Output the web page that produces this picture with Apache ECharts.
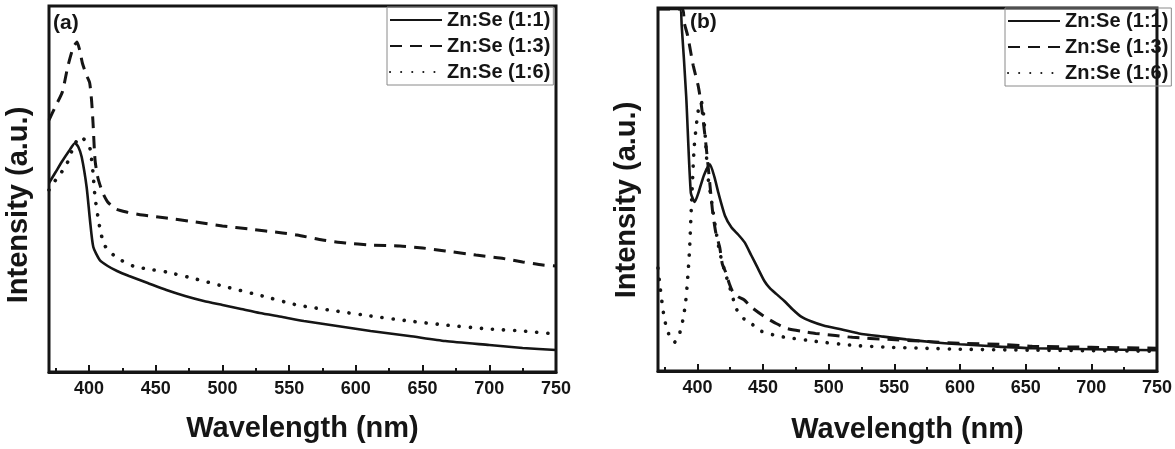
<!DOCTYPE html>
<html>
<head>
<meta charset="utf-8">
<script src="https://cdn.jsdelivr.net/npm/echarts@6/dist/echarts.min.js"></script>
<style>
  html, body { margin: 0; background: #fff; }
  #chart { width: 1175px; height: 449px; }
</style>
</head>
<body>
<div id="chart"></div>
<script>
const seriesNames = ['Zn:Se (1:1)', 'Zn:Se (1:3)', 'Zn:Se (1:6)']
const majorTicks = [400, 450, 500, 550, 600, 650, 700, 750]
const minorTicks = [375, 425, 475, 525, 575, 625, 675, 725]

// panel (a), [wavelength, intensity a.u.]
const aSolid = [[370, 189], [375, 200], [380, 211], [385, 221], [389.5, 229], [392, 225], [394.5, 215], [398.2, 185], [400.7, 152], [403.2, 125], [408, 112], [414, 106], [421, 101], [430, 96], [444, 89], [458, 82], [472, 76], [486, 71], [500, 67], [514, 63], [528, 59], [545, 55], [561, 51], [586, 46], [611, 41], [640, 36], [667, 31], [700, 27], [725, 24], [750, 22]]
const aDashed = [[370, 252], [375, 266], [380, 280], [384, 305], [388, 324], [391, 330], [393, 322], [395, 309], [398, 297], [400.5, 289], [402, 270], [403, 249], [404.5, 212], [406.5, 195], [410, 180], [414, 170], [420, 163], [428, 160], [440, 157], [458, 154], [480, 150], [500, 146], [520, 143], [545, 139], [556, 137], [575, 132], [592, 129], [611, 127], [633, 126], [650, 124], [667, 121], [690, 117], [708, 114], [725, 110], [740, 107], [750, 106]]
const aDotted = [[370, 182], [375, 192], [380, 201], [384, 210], [388, 224], [393, 235], [396, 233], [399, 229], [401, 222], [403, 199], [404.5, 175], [406.7, 155], [409, 138], [412, 126], [416, 120], [421, 114], [433, 106], [444, 103], [458, 100], [480, 93], [500, 86], [530, 76], [556, 67], [585, 61], [611, 56], [640, 51], [667, 47], [700, 43], [725, 41], [750, 38]]

// panel (b)
const bSolid = [[370, 366], [386.5, 366], [388, 350], [391.5, 277], [395, 180], [398, 171], [401, 181], [405, 198], [409.5, 209], [413, 196], [416, 180], [421, 157], [426, 145], [431, 138], [436, 130], [441, 117], [446, 104], [451, 91], [455, 84], [460, 78], [466, 71], [472, 63], [479, 55], [487, 50], [496, 46], [510, 42], [523, 38], [540, 35], [559, 32], [580, 29], [600, 27], [625, 25], [655, 23], [700, 22], [750, 21]]
const bDashed = [[370, 366], [388.5, 366], [390, 352], [392.6, 339], [396.8, 309], [400.5, 289], [403, 269], [406.5, 229], [409.5, 189], [411.7, 160], [414, 140], [417, 125], [419, 108], [421.5, 100], [424.4, 88], [427, 80], [431, 75], [435.5, 72], [441.6, 64], [451, 55], [460, 48], [468, 43], [480, 40], [490, 38], [505, 36], [518, 34], [545, 32], [572, 30], [600, 28], [630, 27], [655, 25], [700, 24], [750, 23]]
const bDotted = [[370, 104], [371, 92], [373, 70], [375, 52], [378, 38], [382.5, 29], [386, 36], [389, 52], [391, 69], [392.5, 92], [394, 122], [395.5, 169], [397.5, 225], [399.5, 252], [401.5, 270], [403, 272], [404.5, 262], [406, 237], [408, 197], [411, 170], [414, 143], [417, 120], [421, 100], [425, 83], [430, 62], [436, 52], [441, 48], [449, 40], [463, 35], [490, 30], [518, 26], [545, 24], [572, 23], [600, 22], [655, 21], [750, 20]]

const font = '"Liberation Sans", Arial, sans-serif'
const ink = '#151515'

const lineStyles = [
  { color: ink, width: 2.6, type: 'solid' },
  { color: ink, width: 3, type: [12, 8] },
  { color: ink, width: 3.6, type: [0.1, 11], cap: 'round' }
]

function makeXAxes(gridIndex, nameGap) {
  return [
    {
      gridIndex,
      type: 'value',
      position: 'bottom',
      min: 370,
      max: 750,
      name: 'Wavelength (nm)',
      nameLocation: 'middle',
      nameGap,
      nameTextStyle: { fontFamily: font, fontWeight: 'bold', fontSize: 29, color: ink },
      axisLine: { show: true, onZero: false, lineStyle: { color: ink, width: 3 } },
      axisTick: { show: true, inside: true, length: 7, customValues: majorTicks, lineStyle: { color: ink, width: 2 } },
      axisLabel: { customValues: majorTicks, margin: 8, fontFamily: font, fontWeight: 'bold', fontSize: 18, color: ink },
      splitLine: { show: false }
    },
    {
      gridIndex,
      type: 'value',
      position: 'bottom',
      min: 370,
      max: 750,
      axisLine: { show: false },
      axisTick: { show: true, inside: true, length: 4, customValues: minorTicks, lineStyle: { color: ink, width: 2 } },
      axisLabel: { show: false },
      splitLine: { show: false }
    }
  ]
}

function makeYAxis(gridIndex, max) {
  return {
    gridIndex,
    type: 'value',
    min: 0,
    max,
    axisLine: { show: false },
    axisTick: { show: false },
    axisLabel: { show: false },
    splitLine: { show: false }
  }
}

function makeLegend(left, top) {
  return {
    left,
    top,
    orient: 'vertical',
    align: 'left',
    selectedMode: false,
    itemWidth: 52,
    itemHeight: 12,
    itemGap: 6,
    padding: [3, 3, 3, 2],
    borderColor: '#8a8a8a',
    borderWidth: 1,
    itemStyle: { opacity: 0 },
    textStyle: { fontFamily: font, fontWeight: 'bold', fontSize: 20, color: ink },
    data: seriesNames
  }
}

function makeSeries(data, idx, axisIdx) {
  return {
    name: seriesNames[idx],
    type: 'line',
    xAxisIndex: axisIdx,
    yAxisIndex: axisIdx === 0 ? 0 : 1,
    data,
    symbol: 'none',
    smooth: 0.2,
    lineStyle: lineStyles[idx],
    itemStyle: { color: ink },
    animation: false
  }
}

const chart = echarts.init(document.getElementById('chart'))
chart.setOption({
  animation: false,
  backgroundColor: '#fff',
  grid: [
    { left: 49, top: 6, width: 507, height: 366, show: true, borderColor: ink, borderWidth: 3 },
    { left: 658, top: 8, width: 509, height: 367, show: true, borderColor: ink, borderWidth: 3 }
  ],
  xAxis: [...makeXAxes(0, 42), ...makeXAxes(1, 44)],
  yAxis: [makeYAxis(0, 366), makeYAxis(1, 367)],
  legend: [makeLegend(387, 7), makeLegend(1005, 8)],
  graphic: [
    { type: 'text', left: 53, top: 13, style: { text: '(a)', font: 'bold 21px ' + font, fill: ink } },
    { type: 'text', left: 690, top: 12, style: { text: '(b)', font: 'bold 21px ' + font, fill: ink } },
    { type: 'text', x: 19, y: 205, rotation: Math.PI / 2, style: { text: 'Intensity (a.u.)', font: 'bold 29px ' + font, fill: ink, align: 'center', verticalAlign: 'middle' } },
    { type: 'text', x: 627, y: 200, rotation: Math.PI / 2, style: { text: 'Intensity (a.u.)', font: 'bold 29px ' + font, fill: ink, align: 'center', verticalAlign: 'middle' } }
  ],
  series: [
    makeSeries(aSolid, 0, 0),
    makeSeries(aDashed, 1, 0),
    makeSeries(aDotted, 2, 0),
    makeSeries(bSolid, 0, 2),
    makeSeries(bDashed, 1, 2),
    makeSeries(bDotted, 2, 2)
  ]
})
</script>
</body>
</html>
